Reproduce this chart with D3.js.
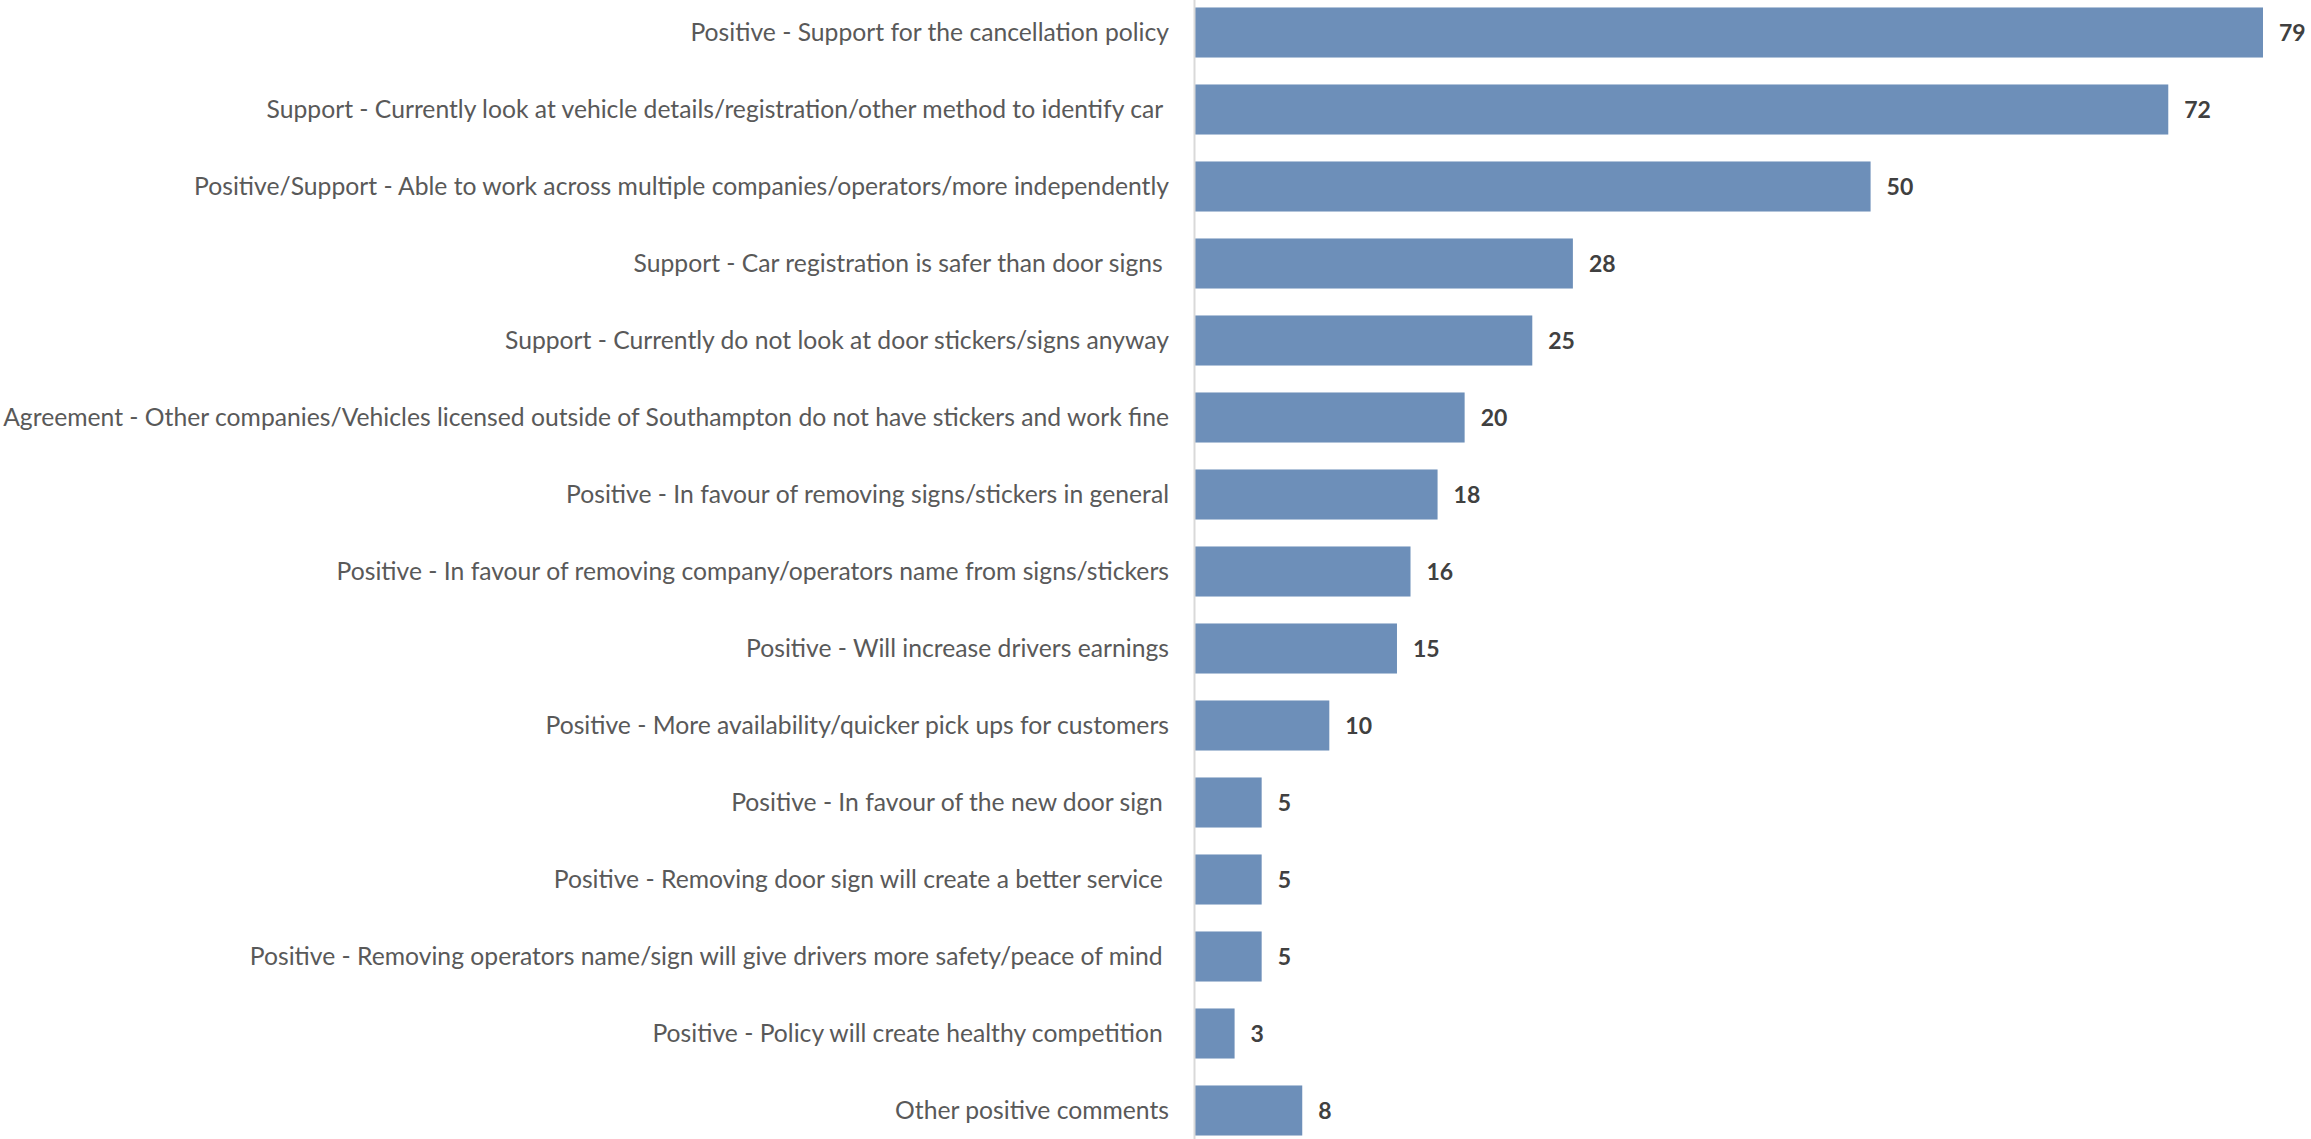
<!DOCTYPE html>
<html>
<head>
<meta charset="utf-8">
<script src="https://cdn.jsdelivr.net/npm/d3@7"></script>
<style>
  html, body { margin: 0; padding: 0; background: #fff; }
  svg { display: block; }
  .cat-label { font-family: Lato, "Open Sans", sans-serif; fill: #595959; white-space: pre; }
  .val-label { font-family: Lato, "Open Sans", sans-serif; fill: #404040; font-weight: bold; }
</style>
</head>
<body>
<div id="chart"></div>
<script>
// Chart data: comment categories and number of mentions
var categories = [
  "Positive - Support for the cancellation policy",
  "Support - Currently look at vehicle details/registration/other method to identify car ",
  "Positive/Support - Able to work across multiple companies/operators/more independently",
  "Support - Car registration is safer than door signs ",
  "Support - Currently do not look at door stickers/signs anyway",
  "Agreement - Other companies/Vehicles licensed outside of Southampton do not have stickers and work fine",
  "Positive - In favour of removing signs/stickers in general",
  "Positive - In favour of removing company/operators name from signs/stickers",
  "Positive - Will increase drivers earnings",
  "Positive - More availability/quicker pick ups for customers",
  "Positive - In favour of the new door sign ",
  "Positive - Removing door sign will create a better service ",
  "Positive - Removing operators name/sign will give drivers more safety/peace of mind ",
  "Positive - Policy will create healthy competition ",
  "Other positive comments"
];
var counts = [79, 72, 50, 28, 25, 20, 18, 16, 15, 10, 5, 5, 5, 3, 8];

var dims = { width: 2311, height: 1139 };
var margin = { left: 1194, right: 48, top: -6, bottom: -10 };

var svg = d3.select("#chart")
  .append("svg")
  .attr("width", dims.width)
  .attr("height", dims.height);

// scales
var x = d3.scaleLinear()
  .domain([0, 79])
  .range([margin.left, 2263]);

var y = d3.scaleBand()
  .domain(categories)
  .range([margin.top, dims.height - margin.bottom])
  .paddingInner(0.35)
  .paddingOuter(0.175);

// bars
svg.append("g")
  .selectAll("rect")
  .data(categories)
  .join("rect")
  .attr("x", x(0))
  .attr("y", function(d) { return y(d); })
  .attr("width", function(d, i) { return x(counts[i]) - x(0); })
  .attr("height", y.bandwidth())
  .attr("fill", "#6d8fb9");

// vertical axis line
svg.append("line")
  .attr("x1", x(0) + 0.5)
  .attr("x2", x(0) + 0.5)
  .attr("y1", 0)
  .attr("y2", dims.height)
  .attr("stroke", "#d9d9d9")
  .attr("stroke-width", 2);

// category labels
svg.append("g")
  .selectAll("text")
  .data(categories)
  .join("text")
  .attr("class", "cat-label")
  .attr("x", x(0) - 25)
  .attr("y", function(d) { return y(d) + y.bandwidth() / 2; })
  .attr("dy", "0.35em")
  .attr("text-anchor", "end")
  .attr("font-size", 24.7)
  .text(function(d) { return d; });

// value labels
svg.append("g")
  .selectAll("text")
  .data(categories)
  .join("text")
  .attr("class", "val-label")
  .attr("x", function(d, i) { return x(counts[i]) + 16; })
  .attr("y", function(d) { return y(d) + y.bandwidth() / 2; })
  .attr("dy", "0.35em")
  .attr("font-size", 23)
  .text(function(d, i) { return counts[i]; });
</script>
</body>
</html>
